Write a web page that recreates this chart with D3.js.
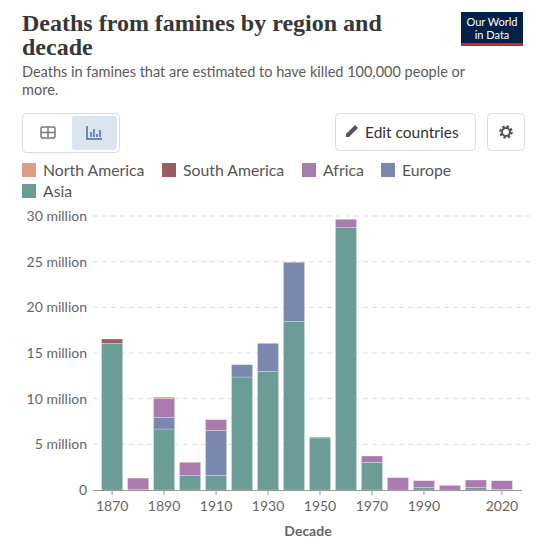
<!DOCTYPE html>
<html><head><meta charset="utf-8">
<script src="https://cdn.jsdelivr.net/npm/d3@7"></script>
<style>
body{margin:0;background:#fff;font-family:Lato,sans-serif;}
</style></head><body>
<svg id="chart" width="536" height="552"></svg>
<script>
// values in millions
const decades = [1870,1880,1890,1900,1910,1920,1930,1940,1950,1960,1970,1980,1990,2000,2010,2020];
const tickDecades = [1870,1890,1910,1930,1950,1970,1990,2020];
const asia        = [16.06,0.1,6.68,1.6,1.6,12.37,12.99,18.47,5.69,28.76,3.03,0,0.29,0,0.29,0.07];
const europe      = [0,0,1.28,0,4.93,1.35,3.07,6.46,0,0,0,0,0,0,0,0];
const africa      = [0,1.2,2.04,1.43,1.17,0,0,0,0.1,0.88,0.69,1.35,0.73,0.51,0.8,0.95];
const southAmerica= [0.47,0,0,0,0,0,0,0,0,0,0,0,0,0,0,0];
const northAmerica= [0,0,0.18,0,0,0,0,0,0,0,0,0,0,0,0,0];
const yTicks = [0,5,10,15,20,25,30];

const regions = [
  {key:"Asia", vals:asia, color:"#6b9c96"},
  {key:"Europe", vals:europe, color:"#7a88ae"},
  {key:"Africa", vals:africa, color:"#a97bae"},
  {key:"South America", vals:southAmerica, color:"#9a5d63"},
  {key:"North America", vals:northAmerica, color:"#e09b86"}
];

const svg = d3.select("#chart");

// header
svg.append("text").attr("x",22).attr("y",31).attr("font-family","'Liberation Serif',serif")
  .attr("font-size",24).attr("font-weight","bold").attr("fill","#373737")
  .text("Deaths from famines by region and");
svg.append("text").attr("x",22).attr("y",55).attr("font-family","'Liberation Serif',serif")
  .attr("font-size",24).attr("font-weight","bold").attr("fill","#373737").text("decade");
svg.append("text").attr("x",22).attr("y",77).attr("font-size",14.5).attr("fill","#5b5b5b")
  .text("Deaths in famines that are estimated to have killed 100,000 people or");
svg.append("text").attr("x",22).attr("y",95).attr("font-size",14.5).attr("fill","#5b5b5b").text("more.");

// logo
svg.append("rect").attr("x",461).attr("y",12).attr("width",62).attr("height",34).attr("fill","#002147");
svg.append("rect").attr("x",461).attr("y",43).attr("width",62).attr("height",3).attr("fill","#ce261e");
svg.append("text").attr("x",492).attr("y",26).attr("text-anchor","middle").attr("fill","#fff")
  .attr("font-size",11).text("Our World");
svg.append("text").attr("x",492).attr("y",39).attr("text-anchor","middle").attr("fill","#fff")
  .attr("font-size",11).text("in Data");

// controls
svg.append("rect").attr("x",22.5).attr("y",113.5).attr("width",97).attr("height",39).attr("rx",4)
  .attr("fill","#fff").attr("stroke","#dcdcdc");
svg.append("rect").attr("x",72).attr("y",116).attr("width",45).attr("height",34).attr("rx",3).attr("fill","#dbe5f0");
// table icon
svg.append("rect").attr("x",41).attr("y",127).attr("width",14).attr("height",11).attr("rx",1.5)
  .attr("fill","none").attr("stroke","#777").attr("stroke-width",1.5);
svg.append("line").attr("x1",41).attr("x2",55).attr("y1",132.5).attr("y2",132.5).attr("stroke","#777").attr("stroke-width",1.5);
svg.append("line").attr("x1",48).attr("x2",48).attr("y1",127).attr("y2",138).attr("stroke","#777").attr("stroke-width",1.5);
// chart icon
svg.append("path").attr("d","M87,126 V139 H102").attr("fill","none").attr("stroke","#4c6a9c").attr("stroke-width",1.5);
[[91,132],[94,129],[97,134],[100,130]].forEach(p=>svg.append("line").attr("x1",p[0]).attr("x2",p[0])
  .attr("y1",p[1]).attr("y2",137).attr("stroke","#4c6a9c").attr("stroke-width",1.5));

svg.append("rect").attr("x",335.5).attr("y",113.5).attr("width",140).attr("height",37).attr("rx",4)
  .attr("fill","#fff").attr("stroke","#dcdcdc");
svg.append("path").attr("d","M346,137 l0,-3 l9,-9 l3,3 l-9,9 z").attr("fill","#555");
svg.append("text").attr("x",365).attr("y",138).attr("font-size",15.5).attr("fill","#333").text("Edit countries");
svg.append("rect").attr("x",487.5).attr("y",113.5).attr("width",37).attr("height",37).attr("rx",4)
  .attr("fill","#fff").attr("stroke","#dcdcdc");
svg.append("circle").attr("cx",506).attr("cy",132).attr("r",5).attr("fill","none").attr("stroke","#555").attr("stroke-width",3.5)
  .attr("stroke-dasharray","2.2 1.7");
svg.append("circle").attr("cx",506).attr("cy",132).attr("r",4).attr("fill","none").attr("stroke","#555").attr("stroke-width",2);

// legend
const colorOf = k => regions.find(r=>r.key===k).color;
const legRows = [[["North America",22],["South America",162],["Africa",302],["Europe",381]],[["Asia",22]]];
legRows.forEach((row,i)=>row.forEach(([k,x])=>{
  const y = 163 + i*21;
  svg.append("rect").attr("x",x).attr("y",y).attr("width",14).attr("height",14).attr("fill",colorOf(k));
  svg.append("text").attr("x",x+21).attr("y",y+12.5).attr("font-size",15.8).attr("fill","#555").text(k);
}));

// chart
const margin = {left:99, right:515, top:216, bottom:490};
const x = d3.scaleBand().domain(decades).range([margin.left, margin.right]).paddingInner(0.19).paddingOuter(0.1);
const y = d3.scaleLinear().domain([0,30]).range([margin.bottom, margin.top]);

const yAxis = svg.append("g").attr("transform","translate(93,0)")
  .call(d3.axisLeft(y).tickValues(yTicks).tickSize(0).tickFormat(d=>d===0?"0":d+" million"));
yAxis.select(".domain").remove();
yAxis.selectAll("text").attr("x",-6).attr("font-size",14).attr("fill","#666").attr("font-family","Lato");
svg.append("g").selectAll("line").data(yTicks.filter(d=>d>0)).join("line")
  .attr("x1",93).attr("x2",530).attr("y1",d=>y(d)).attr("y2",d=>y(d))
  .attr("stroke","#ddd").attr("stroke-dasharray","5 4");

const stacked = d3.stack().keys(regions.map(r=>r.key)).value((d,k)=>regions.find(r=>r.key===k).vals[d])(d3.range(decades.length));
svg.append("g").selectAll("g").data(stacked).join("g")
  .attr("fill",d=>colorOf(d.key))
  .selectAll("rect").data(d=>d.filter(s=>s[1]-s[0]>0)).join("rect")
  .attr("x",d=>x(decades[d.data])).attr("width",x.bandwidth())
  .attr("y",d=>y(d[1])).attr("height",d=>y(d[0])-y(d[1]))
  .attr("stroke","#fff").attr("stroke-opacity",0.4).attr("stroke-width",0.6);

const xAxis = svg.append("g").attr("transform",`translate(0,${margin.bottom})`)
  .call(d3.axisBottom(x).tickValues(tickDecades).tickSize(5).tickSizeOuter(0));
xAxis.select(".domain").attr("d","M93,0.5H522").attr("stroke","#999");
xAxis.selectAll(".tick line").attr("stroke","#999");
xAxis.selectAll("text").attr("font-size",14).attr("fill","#666").attr("font-family","Lato").attr("dy","0.95em");
svg.append("text").attr("x",308).attr("y",536).attr("text-anchor","middle").attr("font-size",14)
  .attr("font-weight","bold").attr("fill","#666").text("Decade");
</script>
</body></html>
